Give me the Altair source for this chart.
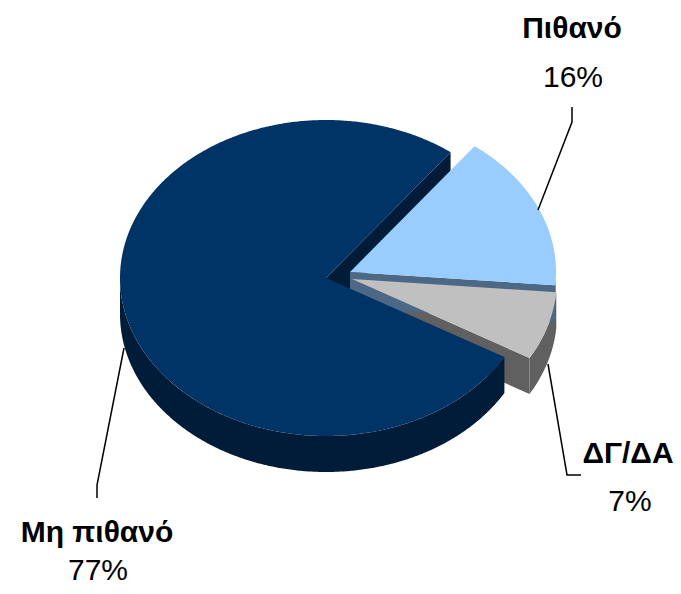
import math
import altair as alt

# ---- data ----
categories = ["Πιθανό", "ΔΓ/ΔΑ", "Μη πιθανό"]
shares = [16, 7, 77]
percent_labels = ["16%", "7%", "77%"]

# ---- styles / layout (reference pixels) ----
START_ANGLE = 37.2
FACE = ["#99CCFF", "#C0C0C0", "#003366"]
WALL = ["#4C6884", "#606060", "#001C38"]
CENTERS = [(350, 272), (352, 279), (326, 278)]
RX = [206, 205, 206]
RY = 158
DEPTH = 36
OFF = 8
FONT = "Liberation Sans"
SIZE = 30


def pt(c, rx, deg, dy=0):
    a = math.radians(deg)
    return [c[0] + rx * math.sin(a), c[1] - RY * math.cos(a) + dy]


def arc(c, rx, a0, a1, dy=0):
    n = max(2, int(abs(a1 - a0) * 2))
    return [pt(c, rx, a0 + (a1 - a0) * i / n, dy) for i in range(n + 1)]


def poly(ring, fill):
    ring = ring + [ring[0]]
    return {"type": "Feature", "properties": {"fill": fill},
            "geometry": {"type": "Polygon", "coordinates": [ring]}}


def line(pts):
    return {"type": "Feature", "properties": {},
            "geometry": {"type": "LineString", "coordinates": pts}}


def cut_wall(c, r, angle, fill):
    return poly([c, pt(c, r, angle), pt(c, r, angle, DEPTH), [c[0], c[1] + DEPTH]], fill)


def rim(c, r, a0, a1, fill):
    return poly(arc(c, r, a0, a1) + arc(c, r, a1, a0, DEPTH), fill)


a = [START_ANGLE]
for s in shares:
    a.append(a[-1] + s * 3.6)

c0, c1, c2 = CENTERS
r0, r1, r2 = RX

# painter's order, back to front
features = [
    cut_wall(c2, r2, a[0], WALL[2]),
    rim(c1, r1, a[1], a[2], WALL[1]),
    cut_wall(c1, r1, a[2], WALL[1]),
    cut_wall(c0, r0, a[1], WALL[0]),
    rim(c0, r0, a[1] - 3, a[1], WALL[0]),
    poly([c0] + arc(c0, r0, a[0], a[1]), FACE[0]),
    poly([c1] + arc(c1, r1, a[1], a[2]), FACE[1]),
    rim(c2, r2, a[2], 270, WALL[2]),
    poly([c2] + arc(c2, r2, a[2], a[3]), FACE[2]),
]

leaders = [
    line([[538, 210], [572, 122], [572, 107]]),
    line([[548, 364], [567, 475], [581, 475]]),
    line([[124, 348], [97, 485], [97, 498]]),
]

names_pos = [(572, 38), (628, 463), (97, 542)]
pct_pos = [(573, 87), (630, 511), (98, 580)]

name_rows = [{"t": categories[i], "x": names_pos[i][0], "y": names_pos[i][1]} for i in range(3)]
pct_rows = [{"t": percent_labels[i], "x": pct_pos[i][0], "y": pct_pos[i][1]} for i in range(3)]

proj = alt.Projection(type="identity", scale=1, translate=[-OFF, -OFF]).to_dict()

shapes = alt.Chart(alt.Data(values=features)).mark_geoshape(strokeWidth=0).encode(
    fill=alt.Fill("properties.fill:N", scale=None)
).project(**proj)

lines = alt.Chart(alt.Data(values=leaders)).mark_geoshape(
    filled=False, stroke="#000000", strokeWidth=1.5
).project(**proj)

bold = alt.Chart(alt.Data(values=name_rows)).mark_text(
    font=FONT, fontSize=SIZE, fontWeight="bold", align="center",
    baseline="alphabetic", color="#000000"
).encode(longitude="x:Q", latitude="y:Q", text="t:N").project(**proj)

plain = alt.Chart(alt.Data(values=pct_rows)).mark_text(
    font=FONT, fontSize=SIZE, align="center",
    baseline="alphabetic", color="#000000"
).encode(longitude="x:Q", latitude="y:Q", text="t:N").project(**proj)

chart = alt.layer(shapes, lines, bold, plain).properties(
    width=665, height=578, padding=0, autosize=alt.AutoSizeParams(type="none"),
    background="#FFFFFF"
).configure_view(stroke=None)

chart.save("out.html", embed_options={"renderer": "svg", "actions": False})
